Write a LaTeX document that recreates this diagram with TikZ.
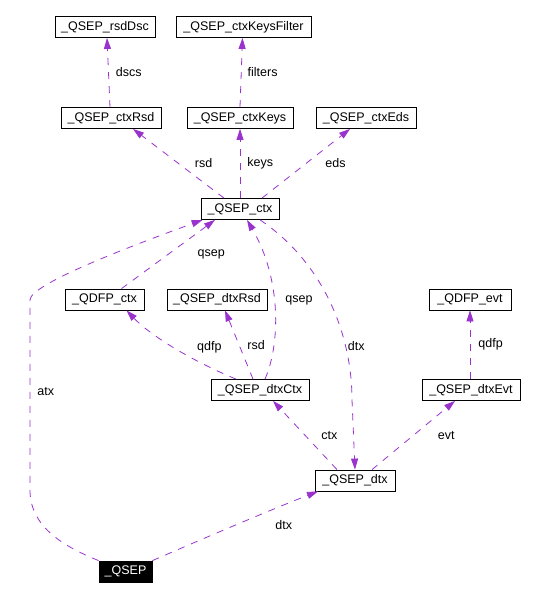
\documentclass[tikz,border=0pt]{standalone}
\usepackage{fontspec}
\setmainfont{Liberation Sans}
\usetikzlibrary{arrows.meta,positioning}
\definecolor{EdgePurple}{RGB}{154,50,205}

\begin{document}
\begin{tikzpicture}[x=1pt,y=-1pt,>={Triangle[length=11pt,width=7pt]},
  cls/.style={draw,fill=white,inner sep=0pt,minimum height=21pt,line width=0.8pt,font=\fontsize{12.5}{14}\selectfont},
  edge/.style={->,draw=EdgePurple,line width=0.8pt,dash pattern=on 7pt off 7pt},
  lbl/.style={font=\fontsize{12.5}{14}\selectfont,inner sep=0pt,text=black}]
\useasboundingbox (0,0) rectangle (549,599);
\node[cls,minimum width=100pt] (rsddsc) at (105,27) {\_QSEP\_rsdDsc};
\node[cls,minimum width=135pt] (filt) at (243.5,27) {\_QSEP\_ctxKeysFilter};
\node[cls,minimum width=100pt] (crsd) at (111,118) {\_QSEP\_ctxRsd};
\node[cls,minimum width=106pt] (ckeys) at (240,118) {\_QSEP\_ctxKeys};
\node[cls,minimum width=100pt] (ceds) at (366,118) {\_QSEP\_ctxEds};
\node[cls,minimum width=78pt] (ctx) at (240,209) {\_QSEP\_ctx};
\node[cls,minimum width=79pt] (qctx) at (104.5,299.5) {\_QDFP\_ctx};
\node[cls,minimum width=100pt] (drsd) at (217,299.5) {\_QSEP\_dtxRsd};
\node[cls,minimum width=82pt] (qevt) at (470,299.5) {\_QDFP\_evt};
\node[cls,minimum width=98pt] (dctx) at (260,390) {\_QSEP\_dtxCtx};
\node[cls,minimum width=98pt] (devt) at (471,390) {\_QSEP\_dtxEvt};
\node[cls,minimum width=80pt] (dtx) at (355,480.5) {\_QSEP\_dtx};
\node[cls,minimum width=53pt,fill=black,text=white] (qsep) at (125.5,571.5) {\_QSEP};
% top rows
\draw[edge] ([xshift=-1pt]crsd.north) -- node[lbl,right=7pt]{dscs} ([xshift=2pt]rsddsc.south);
\draw[edge] (ckeys.north) -- node[lbl,right=6pt]{filters} ([xshift=-1pt]filt.south);
\draw[edge] ([xshift=-16pt]ctx.north) -- node[lbl,right=16pt]{rsd} ([xshift=22pt]crsd.south);
\draw[edge] (ctx.north) -- node[lbl,right=7pt]{keys} (ckeys.south);
\draw[edge] ([xshift=22pt]ctx.north) -- node[lbl,right=19pt]{eds} ([xshift=-16pt]ceds.south);
% into _QSEP_ctx
\draw[edge] ([xshift=17pt]qctx.north) -- node[lbl,right=29pt]{qsep} ([xshift=-25pt]ctx.south);
\draw[edge] ([xshift=5pt]dctx.north) .. controls (280,345) and (282,280) .. node[lbl,pos=0.55,right=11pt]{qsep} ([xshift=7pt]ctx.south);
\draw[edge] (qsep.north west) .. controls (60,545) and (30,525) .. (30,490)
  -- node[lbl,pos=0.52,right=7pt]{atx} (30,300)
  .. controls (30,285) and (120,250) .. ([xshift=2pt]ctx.south west);
% _QSEP_ctx to _QSEP_dtx
\draw[edge] ([xshift=20pt]ctx.south) .. controls (320,260) and (352,330) .. node[lbl,pos=0.74,right=2pt]{dtx} (352,400) -- (dtx.north);
% middle row
\draw[edge] ([xshift=-24pt]dctx.north) .. controls (190,360) and (150,335) .. node[lbl,pos=0.5,right=24pt]{qdfp} ([xshift=22pt]qctx.south);
\draw[edge] ([xshift=-7pt]dctx.north) -- node[lbl,right=8pt]{rsd} ([xshift=8pt]drsd.south);
\draw[edge] ([xshift=-1pt]devt.north) -- node[lbl,right=8pt]{qdfp} (qevt.south);
% bottom
\draw[edge] ([xshift=-18pt]dtx.north) -- node[lbl,right=16pt]{ctx} ([xshift=13pt]dctx.south);
\draw[edge] ([xshift=17pt]dtx.north) -- node[lbl,right=24pt]{evt} ([xshift=-16pt]devt.south);
\draw[edge] (qsep.north east) .. controls (200,540) and (270,510) .. node[lbl,pos=0.5,right=40pt]{dtx} ([xshift=-37pt]dtx.south);
\end{tikzpicture}
\end{document}
